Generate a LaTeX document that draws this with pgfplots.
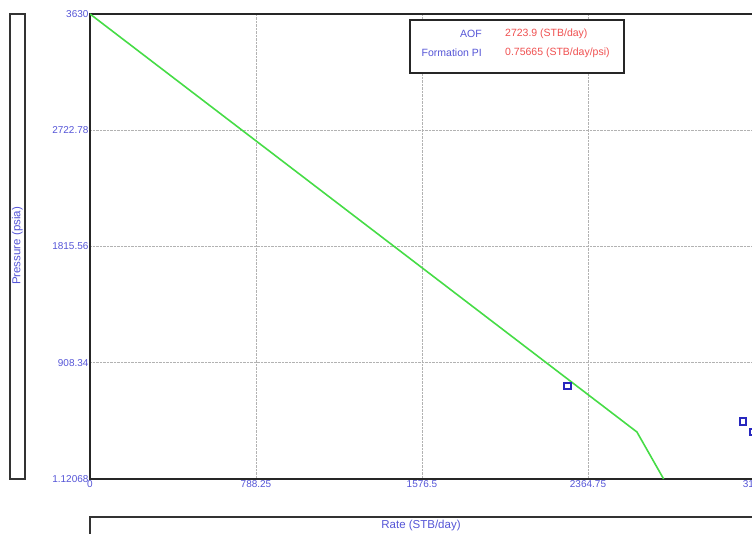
\documentclass[border=0pt]{standalone}
\usepackage{pgfplots}
\pgfplotsset{compat=1.18}
\usepackage{fontspec}
\setmainfont{Liberation Sans}
\definecolor{tickblue}{RGB}{85,85,215}
\definecolor{lgreen}{RGB}{70,220,70}
\definecolor{lred}{RGB}{240,80,80}
\definecolor{mblue}{RGB}{40,40,190}
\begin{document}
\begin{tikzpicture}
\clip (0pt,0pt) rectangle (752pt,533pt);
\begin{axis}[
  at={(90pt,54pt)}, anchor=south west,
  width=664pt, height=465pt, scale only axis,
  xmin=0, xmax=3153, ymin=1.12068, ymax=3630,
  axis line style={line width=2.4pt, black!85},
  grid=major,
  grid style={densely dotted, gray!60, line width=0.7pt},
  tick style={draw=none},
  xtick={0,788.25,1576.5,2364.75,3153},
  xticklabels={0,788.25,1576.5,2364.75,3153},
  ytick={1.12068,908.34,1815.56,2722.78,3630},
  yticklabels={1.12068,908.34,1815.56,2722.78,3630},
  ticklabel style={font=\fontsize{10}{11}\selectfont, text=tickblue},
  xticklabel style={yshift=2pt},
  yticklabel style={xshift=2pt},
]
\addplot[lgreen, line width=1.6pt] coordinates {(0,3630) (2597,368) (2724,1.12)};
\addplot[only marks, mark=square, mark size=3.3pt, mblue, line width=2pt] coordinates {(2268,727) (3101,448) (3150,368)};
\end{axis}
\draw[line width=1.8pt, black!80, fill=white] (10pt,54pt) rectangle (25pt,519pt);
\node[rotate=90, text=tickblue, font=\fontsize{11.5}{12}\selectfont] at (17.5pt,287pt) {Pressure (psia)};
\draw[line width=1.8pt, black!80, fill=white] (90pt,-5pt) rectangle (754pt,16pt);
\node[text=tickblue, font=\fontsize{11.5}{12}\selectfont] at (421pt,7pt) {Rate (STB/day)};
\draw[line width=2pt, black!85, fill=white] (410pt,460pt) rectangle (624pt,513pt);
\begin{scope}[every node/.style={font=\fontsize{10.5}{12}\selectfont, inner sep=0pt}]
\node[anchor=east, text=tickblue] at (482pt,499pt) {AOF};
\node[anchor=east, text=tickblue] at (482pt,480pt) {Formation PI};
\node[anchor=west, text=lred] at (505pt,499pt) {2723.9 (STB/day)};
\node[anchor=west, text=lred] at (505pt,480pt) {0.75665 (STB/day/psi)};
\end{scope}
\end{tikzpicture}
\end{document}
